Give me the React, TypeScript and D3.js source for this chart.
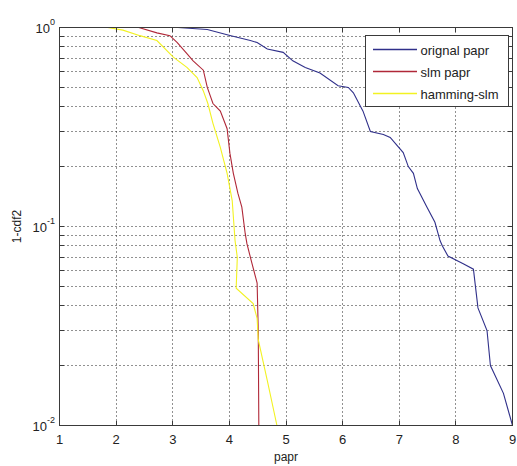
import React, { useEffect, useRef } from "react";
import * as d3 from "d3";

// orignal papr
const origX = [2.55, 3.09, 3.61, 4.01, 4.37, 4.49, 4.67, 4.95, 5.12, 5.34, 5.6, 5.92, 6.1, 6.19, 6.36, 6.49, 6.72, 6.84, 7.07, 7.16, 7.25, 7.32, 7.49, 7.63, 7.72, 7.76, 7.86, 8.13, 8.31, 8.39, 8.55, 8.61, 8.84, 9.0];
const origY = [1.0, 1.0, 0.977, 0.912, 0.86, 0.84, 0.78, 0.75, 0.68, 0.63, 0.59, 0.51, 0.5, 0.47, 0.38, 0.3, 0.29, 0.28, 0.235, 0.2, 0.185, 0.155, 0.125, 0.105, 0.085, 0.08, 0.071, 0.065, 0.061, 0.039, 0.03, 0.02, 0.0145, 0.01];

// slm papr
const slmX = [2.4, 2.72, 2.95, 3.08, 3.25, 3.36, 3.54, 3.61, 3.71, 3.84, 3.96, 4.01, 4.07, 4.15, 4.22, 4.28, 4.31, 4.4, 4.49, 4.51, 4.52];
const slmY = [1.0, 0.94, 0.91, 0.84, 0.74, 0.68, 0.61, 0.5, 0.415, 0.38, 0.31, 0.233, 0.185, 0.147, 0.125, 0.092, 0.082, 0.065, 0.052, 0.03, 0.01];

// hamming-slm
const hamX = [1.85, 2.12, 2.42, 2.72, 3.01, 3.25, 3.43, 3.54, 3.62, 3.71, 3.84, 3.96, 4.05, 4.1, 4.14, 4.12, 4.42, 4.49, 4.51, 4.67, 4.84];
const hamY = [1.0, 0.97, 0.91, 0.86, 0.71, 0.63, 0.56, 0.48, 0.415, 0.33, 0.25, 0.185, 0.135, 0.085, 0.07, 0.049, 0.041, 0.0345, 0.027, 0.0168, 0.01];

const xTicks = [1, 2, 3, 4, 5, 6, 7, 8, 9];
const decades = [1, 0.1, 0.01];
const decadeExp = ["0", "-1", "-2"];
const legendLabels = ["orignal papr", "slm papr", "hamming-slm"];
const colors = ["#30308a", "#b02838", "#f2f222"];

export default function App() {
  const svgRef = useRef(null);

  useEffect(() => {
    const svg = d3.select(svgRef.current);
    svg.selectAll("*").remove();

    const W = 517;
    const H = 466;
    const left = 59.5, right = 512.5, top = 27.5, bottom = 425.5;
    const font = "'Liberation Sans', Arial, sans-serif";
    const axisColor = "#3a3a3a";

    svg.append("rect").attr("width", W).attr("height", H).attr("fill", "#fff");

    const x = d3.scaleLinear().domain([1, 9]).range([left, right]);
    const y = d3.scaleLog().domain([0.01, 1]).range([bottom, top]);

    // minor log positions (2..9 per decade) + decades
    const yGrid: number[] = [];
    [0.01, 0.1].forEach((d) => {
      for (let k = 1; k <= 9; k++) yGrid.push(d * k);
    });
    yGrid.push(1);

    const crisp = (v) => Math.round(v - 0.5) + 0.5;

    // grid
    const grid = svg.append("g").attr("stroke", "#222").attr("stroke-width", 1).attr("stroke-dasharray", "1,3");
    xTicks.slice(1, -1).forEach((t) => {
      grid.append("line").attr("x1", crisp(x(t))).attr("x2", crisp(x(t))).attr("y1", top).attr("y2", bottom);
    });
    yGrid
      .filter((v) => v > 0.0101 && v < 0.99)
      .forEach((v) => {
        grid.append("line").attr("x1", left).attr("x2", right).attr("y1", crisp(y(v))).attr("y2", crisp(y(v)));
      });

    // series
    const series = [
      { xs: origX, ys: origY },
      { xs: slmX, ys: slmY },
      { xs: hamX, ys: hamY },
    ];
    const line = d3
      .line<[number, number]>()
      .x((d) => x(d[0]))
      .y((d) => y(d[1]));
    series.forEach((s, i) => {
      const pts = s.xs.map((v, j) => [v, s.ys[j]] as [number, number]);
      svg
        .append("path")
        .attr("d", line(pts))
        .attr("fill", "none")
        .attr("stroke", colors[i])
        .attr("stroke-width", 1.1);
    });

    // axes box + inward ticks
    const ax = svg.append("g").attr("stroke", axisColor).attr("stroke-width", 1).attr("fill", "none");
    ax.append("rect").attr("x", left).attr("y", top).attr("width", right - left).attr("height", bottom - top);
    const tl = 4.5;
    xTicks.forEach((t) => {
      const px = crisp(x(t));
      ax.append("line").attr("x1", px).attr("x2", px).attr("y1", bottom).attr("y2", bottom - tl);
      ax.append("line").attr("x1", px).attr("x2", px).attr("y1", top).attr("y2", top + tl);
    });
    yGrid.forEach((v) => {
      const py = crisp(y(v));
      ax.append("line").attr("x1", left).attr("x2", left + tl).attr("y1", py).attr("y2", py);
      ax.append("line").attr("x1", right).attr("x2", right - tl).attr("y1", py).attr("y2", py);
    });

    // tick labels
    const txt = svg.append("g").attr("font-family", font).attr("fill", "#222");
    xTicks.forEach((t) => {
      txt
        .append("text")
        .attr("x", x(t))
        .attr("y", bottom + 18)
        .attr("text-anchor", "middle")
        .attr("font-size", 13)
        .text(t);
    });
    decades.forEach((d, i) => {
      const t = txt
        .append("text")
        .attr("x", 55)
        .attr("y", y(d) + 5)
        .attr("text-anchor", "end")
        .attr("font-size", 13);
      t.append("tspan").text("10");
      t.append("tspan").attr("dy", -8).attr("font-size", 9).text(decadeExp[i]);
    });

    txt
      .append("text")
      .attr("x", (left + right) / 2)
      .attr("y", 461)
      .attr("text-anchor", "middle")
      .attr("font-size", 12)
      .text("papr");
    txt
      .append("text")
      .attr("transform", `translate(21,${(top + bottom) / 2}) rotate(-90)`)
      .attr("text-anchor", "middle")
      .attr("font-size", 12)
      .text("1-cdf2");

    // legend
    const lg = svg.append("g").attr("transform", "translate(365.5,35.5)");
    lg.append("rect").attr("width", 143).attr("height", 71).attr("fill", "#fff").attr("stroke", axisColor);
    legendLabels.forEach((lab, i) => {
      const ly = 14 + i * 22;
      lg.append("line").attr("x1", 7.5).attr("x2", 51.5).attr("y1", ly).attr("y2", ly).attr("stroke", colors[i]).attr("stroke-width", 1.3);
      lg.append("text")
        .attr("x", 55)
        .attr("y", ly + 5)
        .attr("font-family", font)
        .attr("font-size", 13)
        .attr("fill", "#222")
        .text(lab);
    });
  }, []);

  return (
    <svg
      ref={svgRef}
      width={517}
      height={466}
      style={{ position: "absolute", left: 0, top: 0, display: "block" }}
    ></svg>
  );
}
